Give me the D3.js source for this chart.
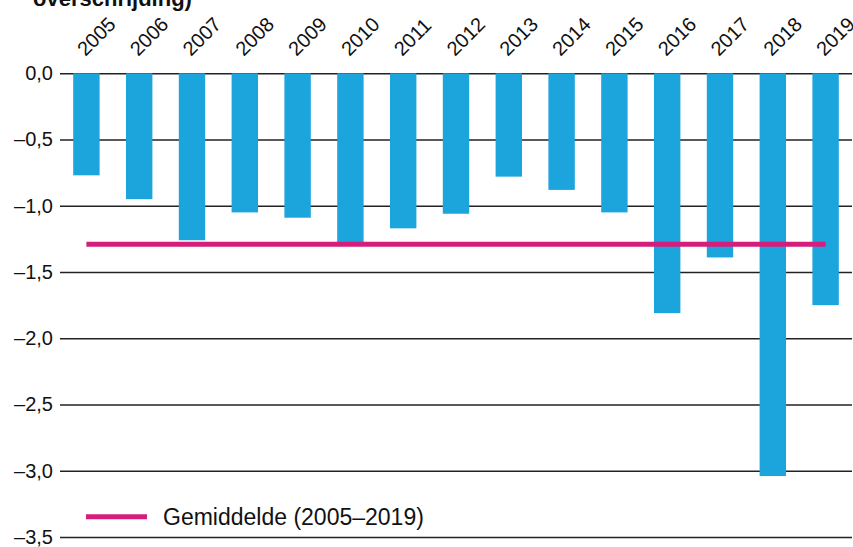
<!DOCTYPE html>
<html>
<head>
<meta charset="utf-8">
<script src="https://cdn.jsdelivr.net/npm/d3@7"></script>
<style>
  html, body { margin: 0; padding: 0; background: #fff; }
  svg { display: block; font-family: "Liberation Sans", Arial, sans-serif; }
</style>
</head>
<body>
<svg id="chart" width="853" height="547"></svg>
<script>
const years = ["2005","2006","2007","2008","2009","2010","2011","2012","2013","2014","2015","2016","2017","2018","2019"];
const values = [-0.77, -0.95, -1.26, -1.05, -1.09, -1.28, -1.17, -1.06, -0.78, -0.88, -1.05, -1.81, -1.39, -3.04, -1.75];
const averageValue = [-1.29];
const yTicks = [0, -0.5, -1.0, -1.5, -2.0, -2.5, -3.0, -3.5];
const titleText = ["overschrijding)"];
const legendLabels = ["Gemiddelde (2005\u20132019)"];

const svg = d3.select("#chart");
const mLeft = 60, mRight = 852, mTop = 73.3, mBottom = 537;

const x = d3.scaleBand().domain(years).range([mLeft, mRight]).paddingInner(0.5).paddingOuter(0.25);
const y = d3.scaleLinear().domain([0, -3.5]).range([mTop, mBottom]);

const fmt = v => (v === 0 ? "0,0" : "\u2013" + Math.abs(v).toFixed(1).replace(".", ","));

// gridlines + tick labels
const yAxis = d3.axisLeft(y).tickValues(yTicks).tickSize(-(mRight - mLeft)).tickFormat(fmt).tickPadding(7);
const gy = svg.append("g").attr("transform", `translate(${mLeft},0)`).call(yAxis);
gy.select(".domain").remove();
gy.selectAll(".tick line").attr("stroke", "#222").attr("stroke-width", 1.4);
gy.selectAll(".tick text").attr("fill", "#111").attr("font-size", 20).attr("font-family", "Liberation Sans, Arial, sans-serif");

// bars
svg.append("g").selectAll("rect").data(years).join("rect")
  .attr("x", d => x(d))
  .attr("width", x.bandwidth())
  .attr("y", y(0))
  .attr("height", (d, i) => y(values[i]) - y(0))
  .attr("fill", "#1ca5dc");

// year labels
svg.append("g").selectAll("text").data(years).join("text")
  .attr("transform", d => `translate(${x(d) + x.bandwidth() / 2 - 1},57) rotate(-45)`)
  .attr("font-size", 20)
  .attr("fill", "#111")
  .text(d => d);

// average line
svg.append("line")
  .attr("x1", x(years[0]) + x.bandwidth() / 2)
  .attr("x2", x(years[years.length - 1]) + x.bandwidth() / 2)
  .attr("y1", y(averageValue[0]))
  .attr("y2", y(averageValue[0]))
  .attr("stroke", "#d51d7b")
  .attr("stroke-width", 5);

// title (cut off at top in the reference)
svg.append("text").attr("x", 33).attr("y", 6)
  .attr("font-size", 22).attr("font-weight", "bold").attr("fill", "#111")
  .text(titleText[0]);

// legend
const lg = svg.append("g");
lg.append("line").attr("x1", 86).attr("x2", 147).attr("y1", 516.7).attr("y2", 516.7)
  .attr("stroke", "#d51d7b").attr("stroke-width", 5);
lg.append("text").attr("x", 163).attr("y", 525).attr("font-size", 23).attr("fill", "#111")
  .text(legendLabels[0]);
</script>
</body>
</html>
